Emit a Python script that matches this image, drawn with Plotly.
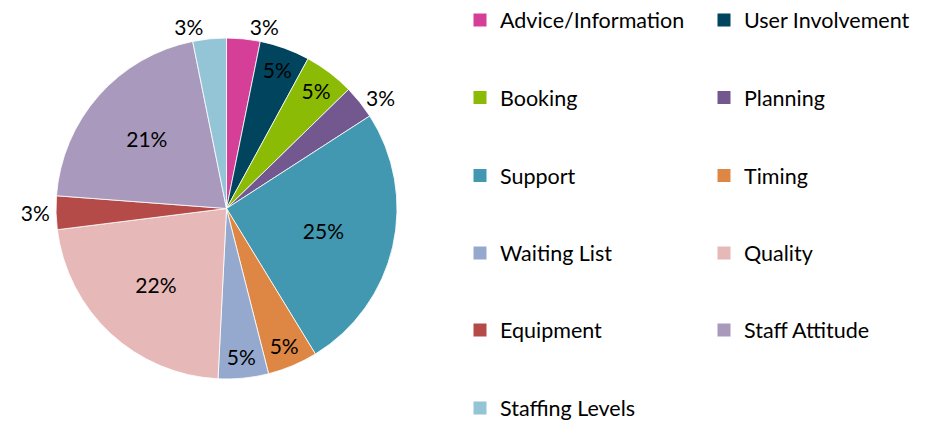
import plotly.graph_objects as go

categories = ["Advice/Information", "User Involvement", "Booking", "Planning",
              "Support", "Timing", "Waiting List", "Quality", "Equipment",
              "Staff Attitude", "Staffing Levels"]
counts = [2, 3, 3, 2, 16, 3, 3, 14, 2, 13, 2]
colors = ["#D53F97", "#00445E", "#8BBB05", "#72588F", "#4198B0", "#DE8643",
          "#95A9CF", "#E6B8B7", "#B44B49", "#A99ABD", "#93C5D6"]
text_pos = ["outside", "inside", "inside", "outside", "inside", "inside",
            "inside", "inside", "outside", "inside", "outside"]

FONT = "Lato"
W, H = 928, 425

# pie placement in pixels (center / radius)
CX, CY, R = 226.5, 208.5, 170.5

fig = go.Figure()
fig.add_trace(go.Pie(
    labels=categories,
    values=counts,
    sort=False,
    direction="clockwise",
    rotation=0,
    marker=dict(colors=colors, line=dict(color="white", width=0.8)),
    texttemplate="%{percent:.0%}",
    textposition=text_pos,
    insidetextorientation="horizontal",
    textfont=dict(family=FONT, size=21, color="#000000"),
    domain=dict(x=[(CX - R) / W, (CX + R) / W],
                y=[(H - CY - R) / H, (H - CY + R) / H]),
    showlegend=False,
    hoverinfo="label+percent",
))

# legend: two columns, rows read left-to-right like the original
col_x = [460, 704]          # legend left edge in px per column
row_y = [20, 97.5, 175.5, 253, 330, 408]  # row centres in px
layout_legends = {}
for i, (cat, col) in enumerate(zip(categories, colors)):
    key = "legend" if i == 0 else f"legend{i + 1}"
    fig.add_trace(go.Scatter(
        x=[None], y=[None], mode="markers", name=cat,
        marker=dict(symbol="square", size=13, color=col, line=dict(width=0)),
        legend=key, showlegend=True, hoverinfo="skip",
    ))
    r, c = divmod(i, 2)
    layout_legends[key] = dict(
        x=col_x[c] / W, xanchor="left",
        y=1 - row_y[r] / H, yanchor="middle",
        orientation="v",
        font=dict(family=FONT, size=21.5, color="#000000"),
        bgcolor="rgba(0,0,0,0)",
        borderwidth=0,
    )

fig.update_layout(
    width=W, height=H,
    margin=dict(l=0, r=0, t=0, b=0, autoexpand=False),
    paper_bgcolor="white", plot_bgcolor="white",
    font=dict(family=FONT, size=20, color="#000000"),
    xaxis=dict(visible=False),
    yaxis=dict(visible=False),
    **layout_legends,
)

fig.write_html("out.html", config={"displayModeBar": False},
               post_script="document.body.style.margin='0';")
